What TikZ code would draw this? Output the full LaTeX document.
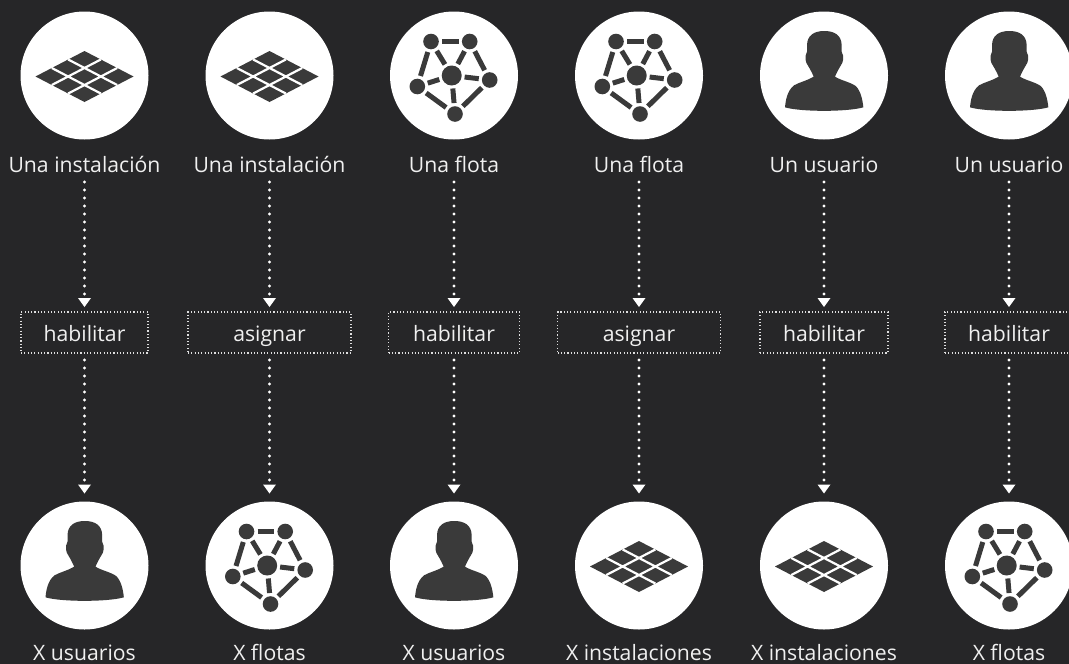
\documentclass[tikz,border=0pt]{standalone}
\usepackage{fontspec}
\setmainfont{Open Sans}
\usetikzlibrary{arrows.meta}
\definecolor{bgcol}{HTML}{262628}
\definecolor{iconcol}{HTML}{3A3A3A}
\definecolor{txtcol}{HTML}{F0F0F0}
\tikzset{
  disc/.style={circle,fill=white,minimum size=128pt,inner sep=0pt,outer sep=0pt},
  lab/.style={text=txtcol,font=\fontsize{21.2}{25}\selectfont,inner sep=0pt,outer sep=0pt,text height=15pt,text depth=10pt,anchor=base},
  opbox/.style={draw=white!85!bgcol,line width=1.1pt,dash pattern=on 1.1pt off 2.2pt,minimum height=41pt,inner sep=0pt,outer sep=0pt,text=txtcol,text height=19.5pt,text depth=2.5pt,font=\fontsize{21.2}{25}\selectfont},
  flow/.style={draw=white,line width=3.2pt,line cap=round,dash pattern=on 0pt off 8pt,-{Triangle[width=13pt,length=9pt,fill=white,line width=0pt,round=false]}},
  link/.style={draw=iconcol,line width=5pt},
  pics/grid/.style={code={
    \fill[iconcol] (0,-24.5) -- (49,1) -- (0,26.5) -- (-49,1) -- cycle;
    \draw[white,line width=2.2pt]
      (-32.7,-7.5) -- (16.3,18) (-16.3,-16) -- (32.7,9.5)
      (32.7,-7.5) -- (-16.3,18) (16.3,-16) -- (-32.7,9.5);
  }},
  pics/net/.style={code={
    \coordinate (-a) at (-23,-34);
    \coordinate (-b) at (15.7,-34);
    \coordinate (-c) at (-2.3,0);
    \coordinate (-d) at (-36.7,11);
    \coordinate (-e) at (35.7,4.5);
    \coordinate (-f) at (1,38.5);
    \foreach \p/\q/\sa/\sb in {a/b/11/11,a/c/11/13,b/c/11/13,a/d/11/11,b/e/11/11,d/c/11/13,c/e/13/11,c/f/13/11,d/f/11/11,e/f/11/11}{
      \draw[link,shorten <=\sa pt,shorten >=\sb pt] (-\p) -- (-\q);
    }
    \foreach \p in {a,b,d,e,f}{\fill[iconcol] (-\p) circle[radius=7.8pt];}
    \fill[iconcol] (-c) circle[radius=10pt];
  }},
  pics/person/.style={code={
    \begin{scope}[x=.3333pt,y=-.3333pt,shift={(-220,-226.5)}]
    \fill[iconcol]
      (221,93) .. controls (252,93) and (272,106) .. (273,135)
      -- (273,155) .. controls (281,170) and (278,187) .. (270,197)
      .. controls (264,207) and (258,218) .. (253,230)
      .. controls (270,241) and (298,246) .. (315,258)
      .. controls (330,272) and (336,300) .. (338,322)
      .. controls (290,336) and (150,336) .. (103,322)
      .. controls (105,300) and (110,272) .. (130,256)
      .. controls (148,246) and (172,241) .. (189,230)
      .. controls (184,218) and (178,207) .. (172,197)
      .. controls (164,187) and (161,170) .. (169,155)
      -- (169,135) .. controls (170,106) and (190,93) .. (221,93) -- cycle;
    \end{scope}
  }},
}
\begin{document}
\begin{tikzpicture}[x=1pt,y=-1pt]
\useasboundingbox[fill=bgcol] (0,0) rectangle (1069,664);
\foreach \i/\x/\ticon/\ttxt/\op/\w/\bicon/\btxt in {
  1/84.5/grid/Una instalación/habilitar/127/person/X usuarios,
  2/269.5/grid/Una instalación/asignar/163/net/X flotas,
  3/454/net/Una flota/habilitar/131/person/X usuarios,
  4/639/net/Una flota/asignar/163/grid/X instalaciones,
  5/824/person/Un usuario/habilitar/128/grid/X instalaciones,
  6/1009/person/Un usuario/habilitar/128/net/X flotas}{
  \node[disc] (t\i) at (\x,75.5) {};
  \pic (ti\i) at (t\i.center) {\ticon};
  \node[lab] (tl\i) at (\x,172) {\ttxt};
  \node[opbox,minimum width=\w pt] (b\i) at (\x,332.5) {\op};
  \node[disc] (d\i) at (\x,565.5) {};
  \pic (di\i) at (d\i.center) {\bicon};
  \node[lab] (dl\i) at (\x,660.5) {\btxt};
  \draw[flow,shorten >=5pt] (tl\i.south) -- (b\i.north);
  \draw[flow,shorten <=7pt,shorten >=8pt] (b\i.south) -- (d\i.north);
}
\end{tikzpicture}
\end{document}
